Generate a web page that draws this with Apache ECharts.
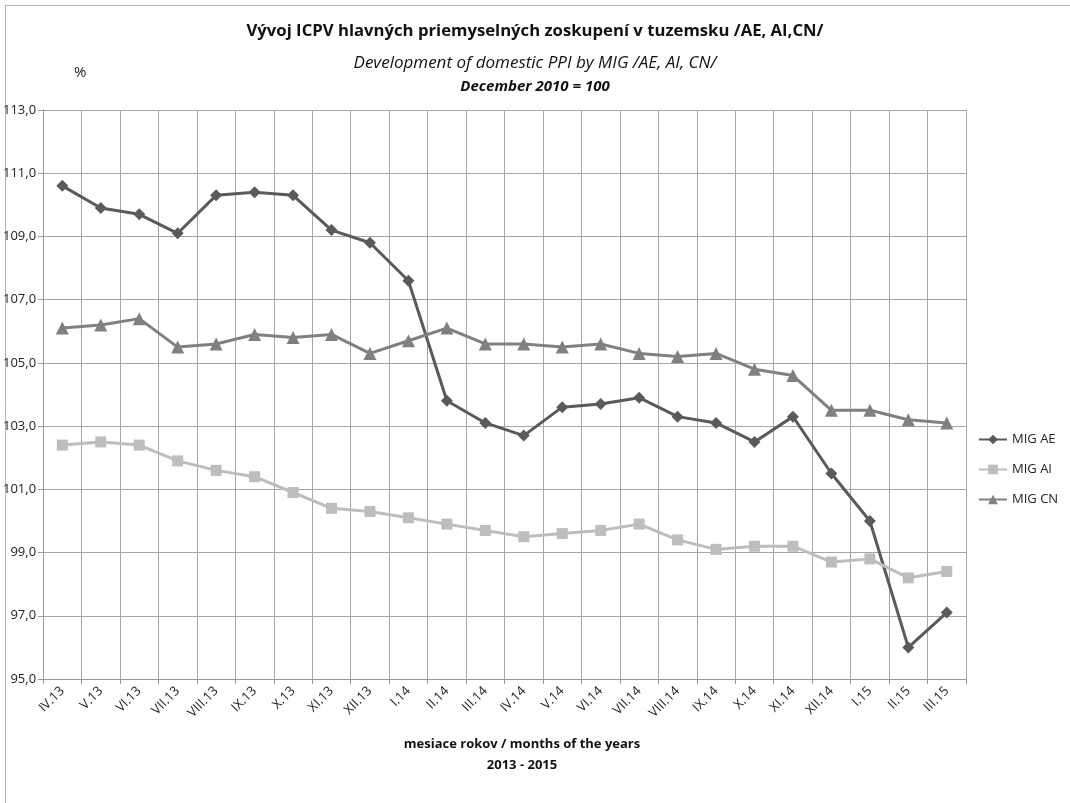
<!DOCTYPE html>
<html><head><meta charset="utf-8">
<script src="https://cdn.jsdelivr.net/npm/echarts@6/dist/echarts.min.js"></script>
<style>html,body{margin:0;padding:0;background:#fff}#c{width:1070px;height:803px}</style>
</head><body><div id="c"></div>
<script>
const categories = ["IV.13","V.13","VI.13","VII.13","VIII.13","IX.13","X.13","XI.13","XII.13","I.14","II.14","III.14","IV.14","V.14","VI.14","VII.14","VIII.14","IX.14","X.14","XI.14","XII.14","I.15","II.15","III.15"];
const migAE = [110.6,109.9,109.7,109.1,110.3,110.4,110.3,109.2,108.8,107.6,103.8,103.1,102.7,103.6,103.7,103.9,103.3,103.1,102.5,103.3,101.5,100.0,96.0,97.1];
const migAI = [102.4,102.5,102.4,101.9,101.6,101.4,100.9,100.4,100.3,100.1,99.9,99.7,99.5,99.6,99.7,99.9,99.4,99.1,99.2,99.2,98.7,98.8,98.2,98.4];
const migCN = [106.1,106.2,106.4,105.5,105.6,105.9,105.8,105.9,105.3,105.7,106.1,105.6,105.6,105.5,105.6,105.3,105.2,105.3,104.8,104.6,103.5,103.5,103.2,103.1];
const seriesNames = ["MIG AE","MIG AI","MIG CN"];
const yMin = 95, yMax = 113, yStep = 2;

const FONT = "'Open Sans', 'Noto Sans', sans-serif";
const chart = echarts.init(document.getElementById('c'), null, {renderer:'canvas'});
const mk = (name, data, color, symbol, size) => ({
  name, type:'line', data, symbol, symbolSize:size,
  lineStyle:{color, width:3}, itemStyle:{color},
  emphasis:{disabled:true}, animation:false
});
chart.setOption({
  animation:false,
  textStyle:{fontFamily:FONT},
  graphic:[
    {type:'rect', shape:{x:5.5,y:5.5,width:1080,height:810}, style:{fill:'none', stroke:'#b0b0b0', lineWidth:1}, silent:true},
    {type:'text', left:'center', top:23, style:{text:'Vývoj ICPV hlavných priemyselných zoskupení v tuzemsku /AE, AI,CN/', font:"bold 16.7px "+FONT, fill:'#111'}},
    {type:'text', left:'center', top:55, style:{text:'Development of domestic PPI by MIG /AE, AI, CN/', font:"italic 17px "+FONT, fill:'#111'}},
    {type:'text', left:'center', top:79, style:{text:'December 2010 = 100', font:"italic bold 15px "+FONT, fill:'#111'}},
    {type:'text', left:74, top:65, style:{text:'%', font:"15px "+FONT, fill:'#222'}},
    {type:'text', x:522, y:738, style:{text:'mesiace rokov / months of the years', font:"bold 13px "+FONT, fill:'#111', textAlign:'center'}},
    {type:'text', x:522, y:759, style:{text:'2013 - 2015', font:"bold 13px "+FONT, fill:'#111', textAlign:'center'}}
  ],
  legend:{
    orient:'vertical', left:973, top:428, itemGap:17, itemWidth:28, itemHeight:12,
    data:seriesNames,
    textStyle:{fontSize:13, color:'#222', fontFamily:FONT}
  },
  grid:{left:37, right:104, top:110, bottom:124, containLabel:false},
  xAxis:{
    type:'category', data:categories, boundaryGap:true,
    axisLine:{lineStyle:{color:'#999', width:1}},
    axisTick:{show:true, length:5, alignWithLabel:false, lineStyle:{color:'#999'}},
    splitLine:{show:true, interval:0, lineStyle:{color:'#a6a6a6', width:1}},
    axisLabel:{interval:0, rotate:45, fontSize:13, color:'#222', margin:10, fontFamily:FONT}
  },
  yAxis:{
    type:'value', min:yMin, max:yMax, interval:yStep,
    axisLine:{show:true, lineStyle:{color:'#999'}},
    axisTick:{show:true, length:5, lineStyle:{color:'#999'}},
    splitLine:{show:true, lineStyle:{color:'#a6a6a6', width:1}},
    axisLabel:{fontSize:13, color:'#222', margin:7, fontFamily:FONT, formatter:v=>v.toFixed(1).replace('.',',')}
  },
  series:[
    mk(seriesNames[0], migAE, '#5a5a5a', 'diamond', 12),
    mk(seriesNames[1], migAI, '#bdbdbd', 'rect', 11),
    mk(seriesNames[2], migCN, '#808080', 'triangle', 13)
  ]
});
</script></body></html>
